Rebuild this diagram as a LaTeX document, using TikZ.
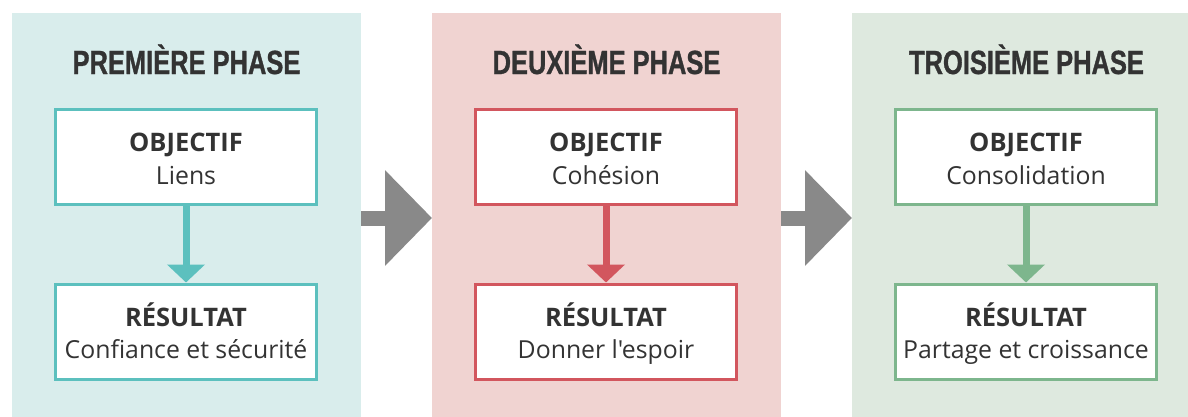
\documentclass[tikz,border=0pt]{standalone}
\usepackage{fontspec}
\setmainfont{Open Sans}
\newfontfamily\boxfont{Open Sans}
\newfontfamily\headfont[FakeStretch=0.76,FakeBold=1]{Liberation Sans}
\usetikzlibrary{arrows.meta}

\definecolor{ink}{HTML}{333333}
\definecolor{tealbg}{HTML}{D9EDEC}
\definecolor{tealline}{HTML}{5CC0BE}
\definecolor{pinkbg}{HTML}{F0D3D1}
\definecolor{redline}{HTML}{D2565E}
\definecolor{greenbg}{HTML}{DEE9DF}
\definecolor{greenline}{HTML}{7DB68D}
\definecolor{flowgray}{HTML}{898989}

\tikzset{
  panel/.style={fill=#1, draw=none, minimum width=349pt, minimum height=410pt,
    anchor=north west, inner sep=0pt, outer sep=0pt},
  phasetitle/.style={anchor=base, text=ink, inner sep=0pt,
    font=\headfont\bfseries\fontsize{33.5}{36}\selectfont},
  stagebox/.style={fill=white, draw=#1, line width=3pt, minimum width=261pt,
    minimum height=95pt, inner sep=0pt},
  boxhead/.style={anchor=base, text=ink, inner sep=0pt,
    font=\boxfont\bfseries\fontsize{25.5}{30}\selectfont},
  boxtext/.style={anchor=base, text=ink, inner sep=0pt,
    font=\boxfont\fontsize{24.8}{30}\selectfont},
  stagearrow/.style={draw=#1, line width=7pt,
    -{Triangle[width=37pt,length=18pt,fill=#1]}},
  phasearrow/.style={draw=flowgray, line width=15pt,
    -{Triangle[width=93pt,length=47pt,fill=flowgray]}}
}

\begin{document}
\begin{tikzpicture}[x=1pt,y=-1pt]
\useasboundingbox (0,0) rectangle (1188,416);
\clip (0,0) rectangle (1188,416);

% phase panels
\node[panel=tealbg]  (p1) at (12,13) {};
\node[panel=pinkbg]  (p2) at (432,13) {};
\node[panel=greenbg] (p3) at (852,13) {};

% phase titles
\node[phasetitle] (t1) at (186.5,74) {PREMIÈRE PHASE};
\node[phasetitle] (t2) at (606.5,74) {DEUXIÈME PHASE};
\node[phasetitle] (t3) at (1026.5,74) {TROISIÈME PHASE};

% objective and result boxes
\node[stagebox=tealline]  (o1) at (186,157)    {};
\node[stagebox=tealline]  (r1) at (186,331.5)  {};
\node[stagebox=redline]   (o2) at (606,157)    {};
\node[stagebox=redline]   (r2) at (606,331.5)  {};
\node[stagebox=greenline] (o3) at (1026,157)   {};
\node[stagebox=greenline] (r3) at (1026,331.5) {};

% box labels
\node[boxhead] (o1h) at ([yshift=6pt]o1.center)   {OBJECTIF};
\node[boxtext] (o1t) at ([yshift=-27pt]o1.center) {Liens};
\node[boxhead] (r1h) at ([yshift=5.5pt]r1.center)   {RÉSULTAT};
\node[boxtext] (r1t) at ([yshift=-26.5pt]r1.center) {Confiance et sécurité};
\node[boxhead] (o2h) at ([yshift=6pt]o2.center)   {OBJECTIF};
\node[boxtext] (o2t) at ([yshift=-27pt]o2.center) {Cohésion};
\node[boxhead] (r2h) at ([yshift=5.5pt]r2.center)   {RÉSULTAT};
\node[boxtext] (r2t) at ([yshift=-26.5pt]r2.center) {Donner l'espoir};
\node[boxhead] (o3h) at ([yshift=6pt]o3.center)   {OBJECTIF};
\node[boxtext] (o3t) at ([yshift=-27pt]o3.center) {Consolidation};
\node[boxhead] (r3h) at ([yshift=5.5pt]r3.center)   {RÉSULTAT};
\node[boxtext] (r3t) at ([yshift=-26.5pt]r3.center) {Partage et croissance};

% arrows inside each phase
\draw[stagearrow=tealline]  (o1.south) -- (r1.north);
\draw[stagearrow=redline]   (o2.south) -- (r2.north);
\draw[stagearrow=greenline] (o3.south) -- (r3.north);

% arrows between phases
\draw[phasearrow] (p1.east) -- (p2.west);
\draw[phasearrow] (p2.east) -- (p3.west);
\end{tikzpicture}
\end{document}
